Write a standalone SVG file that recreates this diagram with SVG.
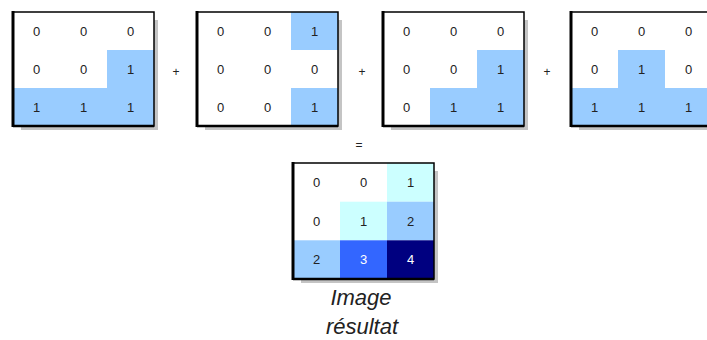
<svg xmlns="http://www.w3.org/2000/svg" width="707" height="340" viewBox="0 0 707 340">
<style>
.n{font-family:"Liberation Sans",Arial,sans-serif;font-size:13px;fill:#222;text-anchor:middle}
.w{fill:#fff}
.op{font-family:"Liberation Sans",Arial,sans-serif;font-size:12px;fill:#222;text-anchor:middle}
.b{fill:#99ccff}
.c{fill:#ccffff}
.frame{fill:none;stroke:#000;stroke-width:1.5}
.thick{stroke:#000;stroke-width:3}
.sh{fill:#c4c4c4}
.lbl{font-family:"Liberation Sans",Arial,sans-serif;font-size:22px;font-style:italic;fill:#222;text-anchor:middle}
</style>
<defs>
<g id="frame">
<rect class="sh" x="141" y="8" width="4" height="110"/>
<rect class="sh" x="8" y="114" width="137" height="4"/>
<rect class="frame" x="0" y="0" width="141" height="114"/>
<line class="thick" x1="0" y1="-1" x2="0" y2="115"/>
<line x1="0" y1="114" x2="141" y2="114" stroke="#000" stroke-width="2.5"/>
</g>
</defs>
<g id="m1" transform="translate(13,12)">
<rect x="0" y="0" width="141" height="114" fill="#fff"/>
<rect class="b" x="94" y="38" width="47" height="38"/>
<rect class="b" x="0" y="76" width="141" height="38"/>
<use href="#frame"/>
<text class="n" x="23.5" y="24">0</text><text class="n" x="70.5" y="24">0</text><text class="n" x="117.5" y="24">0</text>
<text class="n" x="23.5" y="62">0</text><text class="n" x="70.5" y="62">0</text><text class="n" x="117.5" y="62">1</text>
<text class="n" x="23.5" y="100">1</text><text class="n" x="70.5" y="100">1</text><text class="n" x="117.5" y="100">1</text>
</g>
<g id="m2" transform="translate(197,12)">
<rect x="0" y="0" width="141" height="114" fill="#fff"/>
<rect class="b" x="94" y="0" width="47" height="38"/>
<rect class="b" x="94" y="76" width="47" height="38"/>
<use href="#frame"/>
<text class="n" x="23.5" y="24">0</text><text class="n" x="70.5" y="24">0</text><text class="n" x="117.5" y="24">1</text>
<text class="n" x="23.5" y="62">0</text><text class="n" x="70.5" y="62">0</text><text class="n" x="117.5" y="62">0</text>
<text class="n" x="23.5" y="100">0</text><text class="n" x="70.5" y="100">0</text><text class="n" x="117.5" y="100">1</text>
</g>
<g id="m3" transform="translate(383,12)">
<rect x="0" y="0" width="141" height="114" fill="#fff"/>
<rect class="b" x="94" y="38" width="47" height="38"/>
<rect class="b" x="47" y="76" width="94" height="38"/>
<use href="#frame"/>
<text class="n" x="23.5" y="24">0</text><text class="n" x="70.5" y="24">0</text><text class="n" x="117.5" y="24">0</text>
<text class="n" x="23.5" y="62">0</text><text class="n" x="70.5" y="62">0</text><text class="n" x="117.5" y="62">1</text>
<text class="n" x="23.5" y="100">0</text><text class="n" x="70.5" y="100">1</text><text class="n" x="117.5" y="100">1</text>
</g>
<g id="m4" transform="translate(571,12)">
<rect x="0" y="0" width="141" height="114" fill="#fff"/>
<rect class="b" x="47" y="38" width="47" height="38"/>
<rect class="b" x="0" y="76" width="141" height="38"/>
<use href="#frame"/>
<text class="n" x="23.5" y="24">0</text><text class="n" x="70.5" y="24">0</text><text class="n" x="117.5" y="24">0</text>
<text class="n" x="23.5" y="62">0</text><text class="n" x="70.5" y="62">1</text><text class="n" x="117.5" y="62">0</text>
<text class="n" x="23.5" y="100">1</text><text class="n" x="70.5" y="100">1</text><text class="n" x="117.5" y="100">1</text>
</g>
<g id="ops">
<text class="op" x="176" y="76">+</text>
<text class="op" x="362" y="76">+</text>
<text class="op" x="547" y="76">+</text>
<text class="op" x="359" y="149">=</text>
</g>
<g id="result" transform="translate(293,163)">
<rect x="0" y="0" width="141" height="116" fill="#fff"/>
<rect class="c" x="94" y="0" width="47" height="38.7"/>
<rect class="c" x="47" y="38.7" width="47" height="38.7"/>
<rect class="b" x="94" y="38.7" width="47" height="38.7"/>
<rect class="b" x="0" y="77.3" width="47" height="38.7"/>
<rect fill="#3366ff" x="47" y="77.3" width="47" height="38.7"/>
<rect fill="#000080" x="94" y="77.3" width="47" height="38.7"/>
<rect class="sh" x="141" y="8" width="4" height="112"/>
<rect class="sh" x="8" y="116" width="137" height="4"/>
<rect class="frame" x="0" y="0" width="141" height="116"/>
<line class="thick" x1="0" y1="-1" x2="0" y2="117"/>
<line x1="0" y1="116" x2="141" y2="116" stroke="#000" stroke-width="2.5"/>
<text class="n" x="23.5" y="24">0</text><text class="n" x="70.5" y="24">0</text><text class="n" x="117.5" y="24">1</text>
<text class="n" x="23.5" y="63">0</text><text class="n" x="70.5" y="63">1</text><text class="n" x="117.5" y="63">2</text>
<text class="n" x="23.5" y="101">2</text><text class="n w" x="70.5" y="101">3</text><text class="n w" x="117.5" y="101">4</text>
</g>
<g id="label">
<text class="lbl" x="361" y="305">Image</text>
<text class="lbl" x="362" y="334">résultat</text>
</g>
</svg>
